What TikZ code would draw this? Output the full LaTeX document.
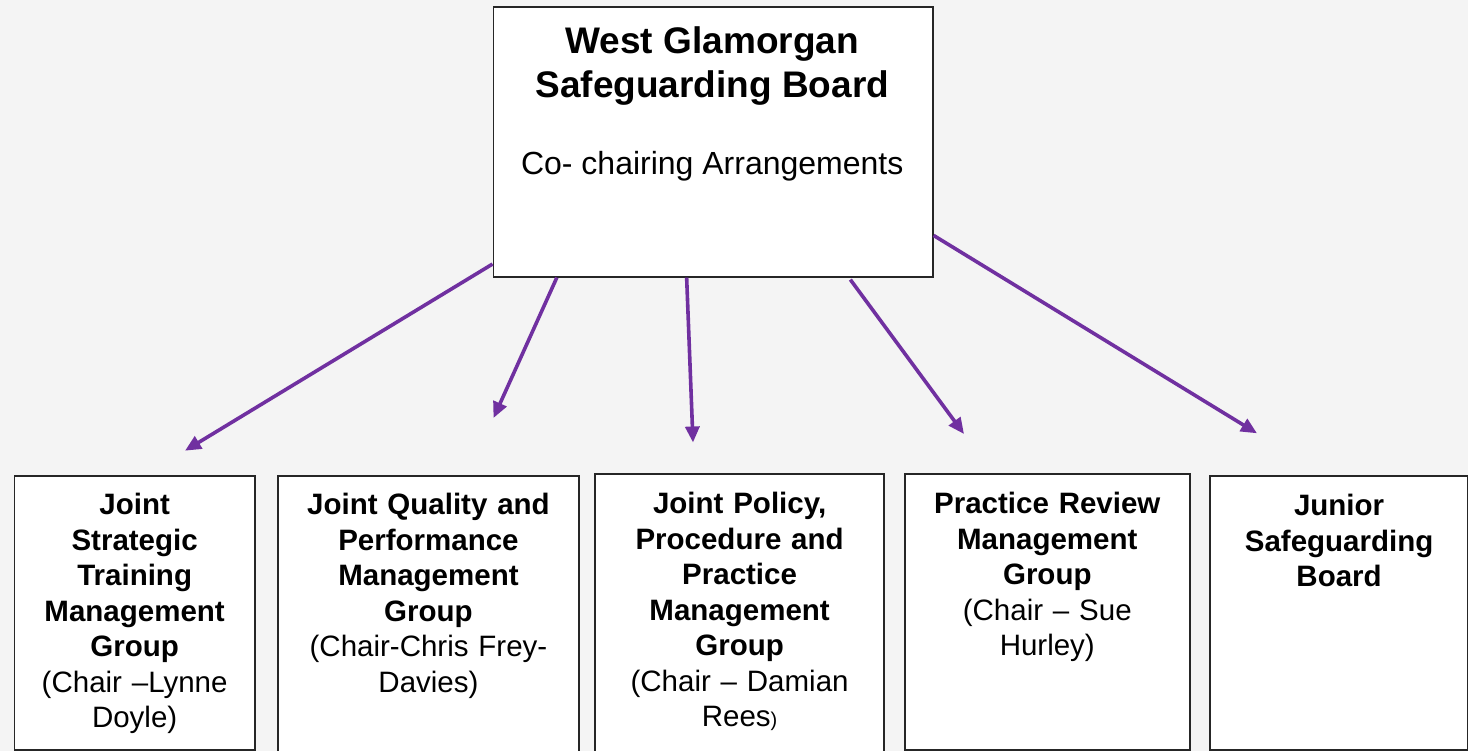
\documentclass[tikz,border=0pt]{standalone}
\usepackage{fontspec}
\setmainfont{Liberation Sans}
\usepackage{tikz}
\usetikzlibrary{arrows.meta}
\definecolor{boardpurple}{HTML}{7030A0}
\definecolor{canvas}{HTML}{F4F4F4}
\tikzset{
  >={Triangle[length=16pt,width=14pt]},
}
\tikzstyle{panel}=[draw=black!85,line width=1.6pt,fill=white,anchor=north west,inner sep=0pt]
\tikzstyle{heading}=[anchor=north,inner sep=0pt,text width=280pt,align=center,font=\fontsize{29.5}{35.5}\selectfont]
\tikzstyle{link}=[boardpurple,line width=3.6pt,->]

\begin{document}
\begin{tikzpicture}[x=1pt,y=-1pt]
    \fill[canvas] (0,0) rectangle (1468,751);
    \useasboundingbox (0,0) rectangle (1468,751);
    % the board
    \node[panel,minimum width=439.5pt,minimum height=270pt] (wgsb) at (492.5,6) {};
    \node[anchor=north,inner sep=0pt,align=center,font=\bfseries\fontsize{37}{43.7}\selectfont] (wgsbtitle) at (712.25,26.5) {West Glamorgan\\Safeguarding Board};
    \node[anchor=base,inner sep=0pt,font=\fontsize{32}{38}\selectfont] (wgsbsub) at (712.25,175) {Co- chairing Arrangements};
    % the groups
    \node[panel,minimum width=240.3pt,minimum height=274.3pt] (jstmg) at (13.7,475) {};
    \node[panel,minimum width=301.3pt,minimum height=290pt] (jqpmg) at (277,475) {};
    \node[panel,minimum width=289pt,minimum height=290pt] (jppmg) at (594.3,473.3) {};
    \node[panel,minimum width=285pt,minimum height=276pt] (prmg) at (904,473) {};
    \node[panel,minimum width=258pt,minimum height=274pt] (jsb) at (1209.3,475) {};
    \node[heading] (jstmgtext) at (jstmg.north |- 0,493) {\textbf{Joint\\Strategic\\Training\\Management\\Group}\\(Chair –Lynne\\Doyle)};
    \node[heading] (jqpmgtext) at (jqpmg.north |- 0,493) {\textbf{Joint Quality and\\Performance\\Management\\Group}\\(Chair-Chris Frey-\\Davies)};
    \node[heading] (jppmgtext) at (jppmg.north |- 0,492) {\textbf{Joint Policy,\\Procedure and\\Practice\\Management\\Group}\\(Chair – Damian\\Rees{\fontsize{20}{35.5}\selectfont)}};
    \node[heading] (prmgtext) at (prmg.north |- 0,492) {\textbf{Practice Review\\Management\\Group}\\(Chair – Sue\\Hurley)};
    \node[heading] (jsbtext) at (jsb.north |- 0,494) {\textbf{Junior\\Safeguarding\\Board}};
    % arrow tips
    \coordinate (tip1) at (185,450.7);
    \coordinate (tip2) at (493.5,418);
    \coordinate (tip3) at (693,442.5);
    \coordinate (tip4) at (964,434);
    \coordinate (tip5) at (1257,433.3);
    \draw[link] (wgsb.-151.2) -- (tip1);
    \draw[link] (wgsb.-139.2) -- (tip2);
    \draw[link] (wgsb.-101.2) -- (tip3);
    \draw[link,shorten <=2.5pt] (wgsb.-45.3) -- (tip4);
    \draw[link] (wgsb.-23.8) -- (tip5);
\end{tikzpicture}
\end{document}
